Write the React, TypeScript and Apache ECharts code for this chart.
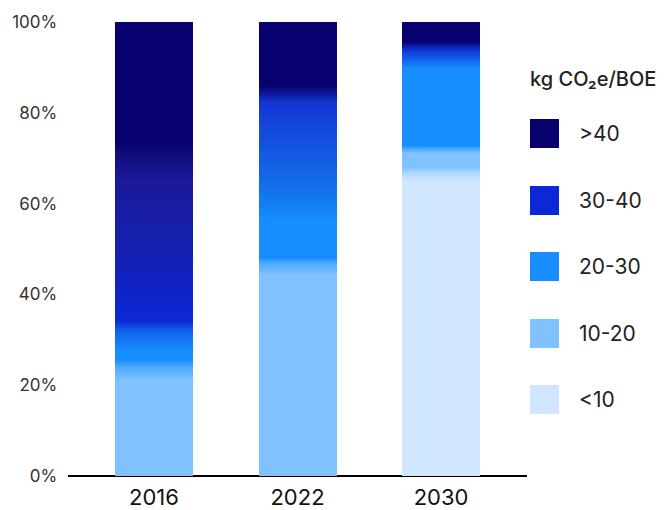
import React, { useEffect, useRef } from "react";
import * as echarts from "echarts";

const YEARS = ["2016", "2022", "2030"];
const CATEGORIES = ["<10", "10-20", "20-30", "30-40", ">40"];
const LEGEND_ORDER = [">40", "30-40", "20-30", "10-20", "<10"];
const V_LT10 = [0, 0, 67];
const V_10_20 = [24, 47, 5];
const V_20_30 = [8, 21, 20];
const V_30_40 = [38, 16, 3];
const V_GT40 = [30, 16, 5];
const Y_MIN = 0;
const Y_MAX = 100;
const Y_STEP = 20;

const N = "#08006E";
const B30 = "#0B28D6";
const B20 = "#168EFF";
const L = "#80C2FF";
const VL = "#D0E6FF";

const BASE_COLORS: Record<string, string> = {
  "<10": VL,
  "10-20": L,
  "20-30": B20,
  "30-40": B30,
  ">40": N,
};

// gradient stops (top = 0, bottom = 1) per category per year
const GRADIENTS: Record<string, ([number, string][] | null)[]> = {
  "<10": [null, null, [[0, "#A8D4FF"], [0.03, VL], [1, VL]]],
  "10-20": [
    [[0, "#4BA8FF"], [0.12, L], [1, L]],
    [[0, "#4BA8FF"], [0.06, L], [1, L]],
    [[0, "#4BA8FF"], [0.17, L], [0.8, L], [1, "#A8D4FF"]],
  ],
  "20-30": [
    [[0, "#1060E8"], [0.53, B20], [0.8, B20], [1, "#4BA8FF"]],
    [[0, "#1462E6"], [0.35, "#1479F0"], [0.55, B20], [0.95, B20], [1, "#4BA8FF"]],
    [[0, "#105BEA"], [0.11, B20], [0.96, B20], [1, "#4BA8FF"]],
  ],
  "30-40": [
    [[0, "#12107F"], [0.13, "#1A1A9A"], [0.59, "#1420B5"], [0.94, B30], [1, "#1060E8"]],
    [[0, "#0C1BA0"], [0.1, "#1335D4"], [1, "#1462E6"]],
    [[0, "#0A1499"], [0.4, "#1335D4"], [1, "#105BEA"]],
  ],
  ">40": [
    [[0, N], [0.87, N], [1, "#12107F"]],
    [[0, N], [0.87, N], [1, "#0C1BA0"]],
    [[0, N], [0.88, N], [1, "#0A1499"]],
  ],
};

const VALUES: Record<string, number[]> = {
  "<10": V_LT10,
  "10-20": V_10_20,
  "20-30": V_20_30,
  "30-40": V_30_40,
  ">40": V_GT40,
};

const FONT = "Inter, 'Liberation Sans', Arial, sans-serif";

export default function App() {
  const ref = useRef<HTMLDivElement>(null);
  useEffect(() => {
    if (!ref.current) return;
    const chart = echarts.init(ref.current, undefined, { renderer: "svg" });
    const series = CATEGORIES.map((cat) => ({
      name: cat,
      type: "bar",
      stack: "total",
      barWidth: 78,
      xAxisIndex: 0,
      yAxisIndex: 0,
      itemStyle: { color: BASE_COLORS[cat] },
      emphasis: { disabled: true },
      data: VALUES[cat].map((v, i) => {
        const stops = GRADIENTS[cat][i];
        return {
          value: v,
          itemStyle: stops
            ? {
                color: new echarts.graphic.LinearGradient(
                  0,
                  0,
                  0,
                  1,
                  stops.map(([o, c]) => ({ offset: o, color: c }))
                ),
              }
            : undefined,
        };
      }),
    }));
    chart.setOption({
      animation: false,
      textStyle: { fontFamily: FONT },
      grid: [
        { left: 82.25, right: 152.25, top: 22, bottom: 34, containLabel: false },
        { left: 69, right: 139, top: 22, bottom: 34, containLabel: false },
      ],
      xAxis: [
        {
          type: "category",
          gridIndex: 0,
          data: YEARS,
          axisLine: { show: false },
          axisTick: { show: false },
          splitLine: { show: false },
          axisLabel: {
            fontSize: 22,
            lineHeight: 20,
            color: "#111",
            margin: 11,
            fontFamily: FONT,
          },
        },
        {
          type: "value",
          gridIndex: 1,
          min: 0,
          max: 1,
          axisLine: { show: true, lineStyle: { color: "#000", width: 2 } },
          axisTick: { show: false },
          axisLabel: { show: false },
          splitLine: { show: false },
        },
      ],
      yAxis: [
        {
          type: "value",
          gridIndex: 0,
          min: Y_MIN,
          max: Y_MAX,
          interval: Y_STEP,
          axisLine: { show: false },
          axisTick: { show: false },
          splitLine: { show: false },
          axisLabel: {
            formatter: "{value}%",
            fontSize: 17,
            color: "#333",
            margin: 25,
            fontFamily: FONT,
          },
        },
        {
          type: "value",
          gridIndex: 1,
          min: 0,
          max: 1,
          show: false,
        },
      ],
      legend: {
        orient: "vertical",
        left: 530,
        top: 119,
        padding: 0,
        itemWidth: 29,
        itemHeight: 29,
        itemGap: 37.5,
        icon: "rect",
        selectedMode: false,
        data: LEGEND_ORDER,
        textStyle: {
          fontSize: 21,
          color: "#222",
          fontFamily: FONT,
          padding: [0, 0, 0, 15],
        },
      },
      graphic: [
        {
          type: "text",
          left: 530,
          top: 69,
          style: {
            text: "kg CO₂e/BOE",
            font: `500 20px ${FONT}`,
            fill: "#222",
          },
        },
      ],
      series,
    });
    return () => chart.dispose();
  }, []);
  return (
    <>
      <style>{"#root svg path { shape-rendering: crispEdges; }"}</style>
      <div
        ref={ref}
        style={{ position: "absolute", left: 0, top: 0, width: 665, height: 510 }}
      />
    </>
  );
}
